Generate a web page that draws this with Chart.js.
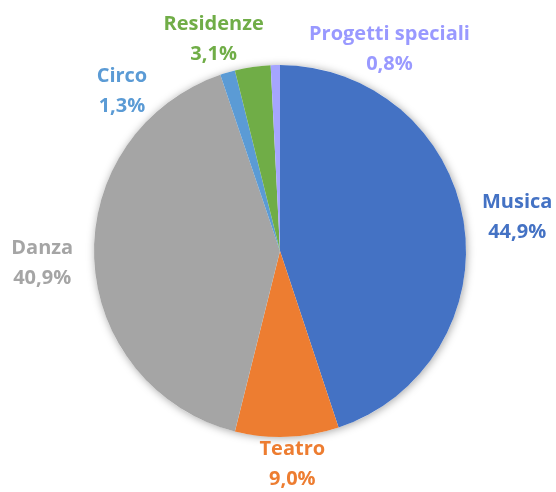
<!DOCTYPE html>
<html>
<head>
<meta charset="utf-8">
<script src="https://cdn.jsdelivr.net/npm/chart.js@4"></script>
<style>
  html, body { margin: 0; padding: 0; background: #ffffff; }
  #wrap { width: 556px; height: 492px; }
</style>
</head>
<body>
<div id="wrap"><canvas id="pie-chart"></canvas></div>
<script>
// Chart data
const categories = ['Musica', 'Teatro', 'Danza', 'Circo', 'Residenze', 'Progetti speciali'];
const shares = [44.9, 9.0, 40.9, 1.3, 3.1, 0.8];
const sliceColors = ['#4472C4', '#ED7D31', '#A5A5A5', '#5B9BD5', '#70AD47', '#A5A5FF'];
const labelColors = ['#4472C4', '#ED7D31', '#A5A5A5', '#5B9BD5', '#70AD47', '#9999FF'];

// Label nudges (px) away from the radial anchor, like Excel's best-fit placement
const labelNudge = [[20, 1], [4, -7], [-18, 3], [-96, 51], [-34, 6], [115, 18]];

// Soft glow behind the pie
const pieShadow = {
  id: 'pieShadow',
  beforeDatasetsDraw(chart) {
    const arc = chart.getDatasetMeta(0).data[0];
    if (!arc) return;
    const ctx = chart.ctx;
    ctx.save();
    ctx.shadowColor = 'rgba(0, 0, 0, 0.35)';
    ctx.shadowBlur = 9;
    ctx.shadowOffsetX = 1;
    ctx.shadowOffsetY = 1;
    ctx.fillStyle = '#ffffff';
    ctx.beginPath();
    ctx.arc(arc.x, arc.y, arc.outerRadius, 0, Math.PI * 2);
    ctx.fill();
    ctx.restore();
  }
};

// Category name + percentage outside each slice
const sliceLabels = {
  id: 'sliceLabels',
  afterDatasetsDraw(chart) {
    const ctx = chart.ctx;
    const meta = chart.getDatasetMeta(0);
    ctx.save();
    ctx.font = "bold 20px 'Open Sans', sans-serif";
    ctx.textAlign = 'center';
    ctx.textBaseline = 'middle';
    meta.data.forEach((arc, i) => {
      const mid = (arc.startAngle + arc.endAngle) / 2;
      const d = arc.outerRadius + 34;
      const x = arc.x + Math.cos(mid) * d + labelNudge[i][0];
      const y = arc.y + Math.sin(mid) * d + labelNudge[i][1];
      ctx.fillStyle = labelColors[i];
      ctx.fillText(categories[i], x, y - 15);
      ctx.fillText(shares[i].toFixed(1).replace('.', ',') + '%', x, y + 15);
    });
    ctx.restore();
  }
};

const ctx = document.getElementById('pie-chart').getContext('2d');
window.pieChart = new Chart(ctx, {
  type: 'pie',
  data: {
    labels: categories,
    datasets: [
      {
        data: shares,
        backgroundColor: sliceColors,
        borderWidth: 0
      }
    ]
  },
  options: {
    responsive: true,
    maintainAspectRatio: false,
    animation: false,
    layout: {
      padding: { left: 94, right: 90, top: 65, bottom: 55 }
    },
    plugins: {
      legend: { display: false },
      tooltip: { enabled: false }
    }
  },
  plugins: [pieShadow, sliceLabels]
});
</script>
</body>
</html>
